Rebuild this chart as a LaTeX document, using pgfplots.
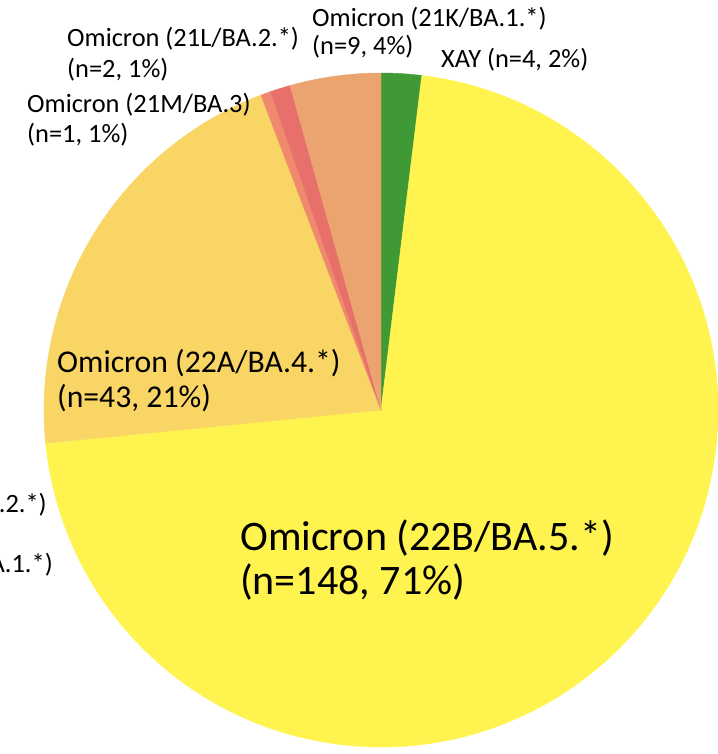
\documentclass[border=0pt]{standalone}
\usepackage{pgfplots}
\usepackage{pgfplotstable}
\pgfplotsset{compat=1.18}
\usepackage{fontspec}
\setmainfont{Carlito}
\definecolor{cXAY}{HTML}{3F9A35}
\definecolor{c22B}{HTML}{FFF44F}
\definecolor{c22A}{HTML}{F8D564}
\definecolor{c21M}{HTML}{EF8A6E}
\definecolor{c21L}{HTML}{E8706A}
\definecolor{c21K}{HTML}{EBA46F}
\pgfplotstableread{
n color
4 cXAY
148 c22B
43 c22A
1 c21M
2 c21L
9 c21K
}\pietable
\newcommand\fsm{\fontsize{26.4bp}{28bp}\selectfont}
\newcommand\fmd{\fontsize{31.7bp}{34bp}\selectfont}
\newcommand\flg{\fontsize{42bp}{45bp}\selectfont}
\begin{document}
\begin{tikzpicture}
\begin{axis}[scale only axis, width=718bp, height=754bp,
  xmin=0, xmax=718, ymin=0, ymax=754, y dir=reverse,
  hide axis, clip=false]
\pgfplotstablegetrowsof{\pietable}
\pgfmathtruncatemacro\nlast{\pgfplotsretval-1}
\def\total{0}
\pgfplotsforeachungrouped \i in {0,...,\nlast}{%
  \pgfplotstablegetelem{\i}{n}\of\pietable
  \pgfmathsetmacro\total{\total+\pgfplotsretval}%
}
\def\cum{0}
\pgfplotsforeachungrouped \i in {0,...,\nlast}{%
  \pgfplotstablegetelem{\i}{n}\of\pietable \let\val\pgfplotsretval
  \pgfplotstablegetelem{\i}{color}\of\pietable \let\col\pgfplotsretval
  \pgfmathsetmacro\a{90-(\cum/\total)*360}%
  \pgfmathsetmacro\b{90-((\cum+\val)/\total)*360}%
  \edef\temp{\noexpand\fill[\col, draw=\col, line width=0.4bp] (axis cs:381,410) -- ++(\a:337bp) arc[start angle=\a, end angle=\b, radius=337bp] -- cycle;}%
  \temp
  \pgfmathsetmacro\cum{\cum+\val}%
}
\tikzset{lbl/.style={anchor=base west, inner sep=0pt, text=black}}
\node[lbl, font=\fsm] at (axis cs:312,27) {Omicron (21K/BA.1.*)};
\node[lbl, font=\fsm] at (axis cs:312,55) {(n=9, 4\%)};
\node[lbl, font=\fsm] at (axis cs:441,68) {XAY (n=4, 2\%)};
\node[lbl, font=\fsm] at (axis cs:67,47) {Omicron (21L/BA.2.*)};
\node[lbl, font=\fsm] at (axis cs:67,78) {(n=2, 1\%)};
\node[lbl, font=\fsm] at (axis cs:27,113) {Omicron (21M/BA.3)};
\node[lbl, font=\fsm] at (axis cs:27,143) {(n=1, 1\%)};
\node[lbl, font=\fmd] at (axis cs:57,372) {Omicron (22A/BA.4.*)};
\node[lbl, font=\fmd] at (axis cs:57,407) {(n=43, 21\%)};
\node[lbl, font=\flg] at (axis cs:240,550) {Omicron (22B/BA.5.*)};
\node[lbl, font=\flg] at (axis cs:240,594) {(n=148, 71\%)};
\node[anchor=base east, inner sep=0pt, font=\fsm] at (axis cs:47,512) {Omicron (21L/BA.2.*)};
\node[anchor=base east, inner sep=0pt, font=\fsm] at (axis cs:53,572) {Omicron (21K/BA.1.*)};
\end{axis}
\pgfresetboundingbox
\useasboundingbox (current axis.south west) rectangle (current axis.north east);
\end{tikzpicture}
\end{document}
